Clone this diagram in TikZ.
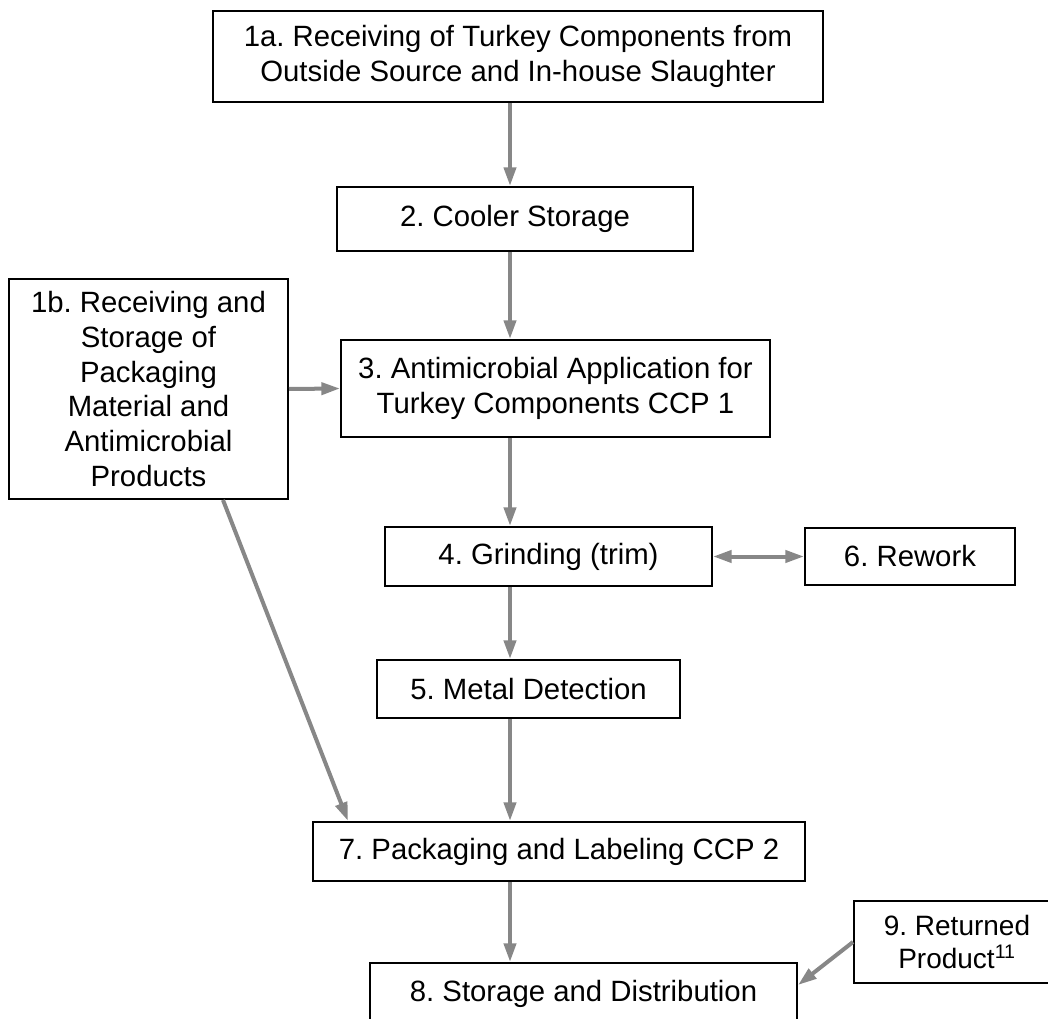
\documentclass[tikz,border=0pt]{standalone}
\usepackage{fontspec}
\setmainfont{Liberation Sans}
\usetikzlibrary{arrows.meta}
\definecolor{ink}{HTML}{000000}
\definecolor{flowgray}{HTML}{878787}
\frenchspacing
\tikzset{
  >={Triangle[length=14pt,width=9pt]},
  every node/.style={font=\fontsize{22}{26}\selectfont, text=ink},
  block/.style={
    draw=ink,
    line width=1.5pt,
    align=center,
    inner sep=0pt
  },
  flow/.style={->, line width=3pt, draw=flowgray},
  flowboth/.style={<->, line width=3pt, draw=flowgray}
}

\begin{document}
\begin{tikzpicture}[x=0.75pt, y=-0.75pt]
  \useasboundingbox (0,0) rectangle (1048,1019);

  \node[block, minimum width=457.5pt, minimum height=68.25pt] (recv) at (518,56.5)
    {1a. Receiving of Turkey Components from\\Outside Source and In-house Slaughter};
  \node[block, minimum width=267pt, minimum height=48pt] (cooler) at (515,219) {2. Cooler Storage};
  \node[block, minimum width=209.25pt, minimum height=165pt] (pkgrecv) at (148.5,389)
    {1b. Receiving and\\Storage of\\Packaging\\Material and\\Antimicrobial\\Products};
  \node[block, minimum width=321.75pt, minimum height=72.75pt] (antimic) at (555.5,388.5)
    {3. Antimicrobial Application for\\Turkey Components CCP 1};
  \node[block, minimum width=245.25pt, minimum height=44.25pt] (grind) at (548.5,556.5) {4. Grinding (trim)};
  \node[block, minimum width=157.5pt, minimum height=42.75pt] (rework) at (910,556.5) {6. Rework};
  \node[block, minimum width=227.25pt, minimum height=43.5pt] (metal) at (528.5,689) {5. Metal Detection};
  \node[block, minimum width=369pt, minimum height=44.25pt] (pack) at (559,851.5) {7. Packaging and Labeling CCP 2};
  \node[block, minimum width=320.25pt, minimum height=46.5pt] (store) at (583.5,994) {8. Storage and Distribution};
  \node[block, minimum width=154.5pt, minimum height=61.5pt, font=\fontsize{21}{25}\selectfont] (returned) at (957,942)
    {9. Returned\\Product\textsuperscript{11}};

  % free ends of the connectors
  \coordinate (spine) at (510,0);
  \coordinate (diagtop) at (223,0);
  \coordinate (diagend) at (348,0);
  \coordinate (rettip) at (0,985);

  \draw[flow] (recv.south -| spine) -- (cooler.north -| spine);
  \draw[flow] (cooler.south -| spine) -- (antimic.north -| spine);
  \draw[flow] (pkgrecv.east) -- (antimic.west);
  \draw[flow] (antimic.south -| spine) -- (grind.north -| spine);
  \draw[flowboth] (grind.east) -- (rework.west);
  \draw[flow] (grind.south -| spine) -- (metal.north -| spine);
  \draw[flow] (metal.south -| spine) -- (pack.north -| spine);
  \draw[flow] (pkgrecv.south -| diagtop) -- (pack.north -| diagend);
  \draw[flow] (pack.south -| spine) -- (store.north -| spine);
  \draw[flow] (returned.west) -- (store.east |- rettip);
\end{tikzpicture}
\end{document}
